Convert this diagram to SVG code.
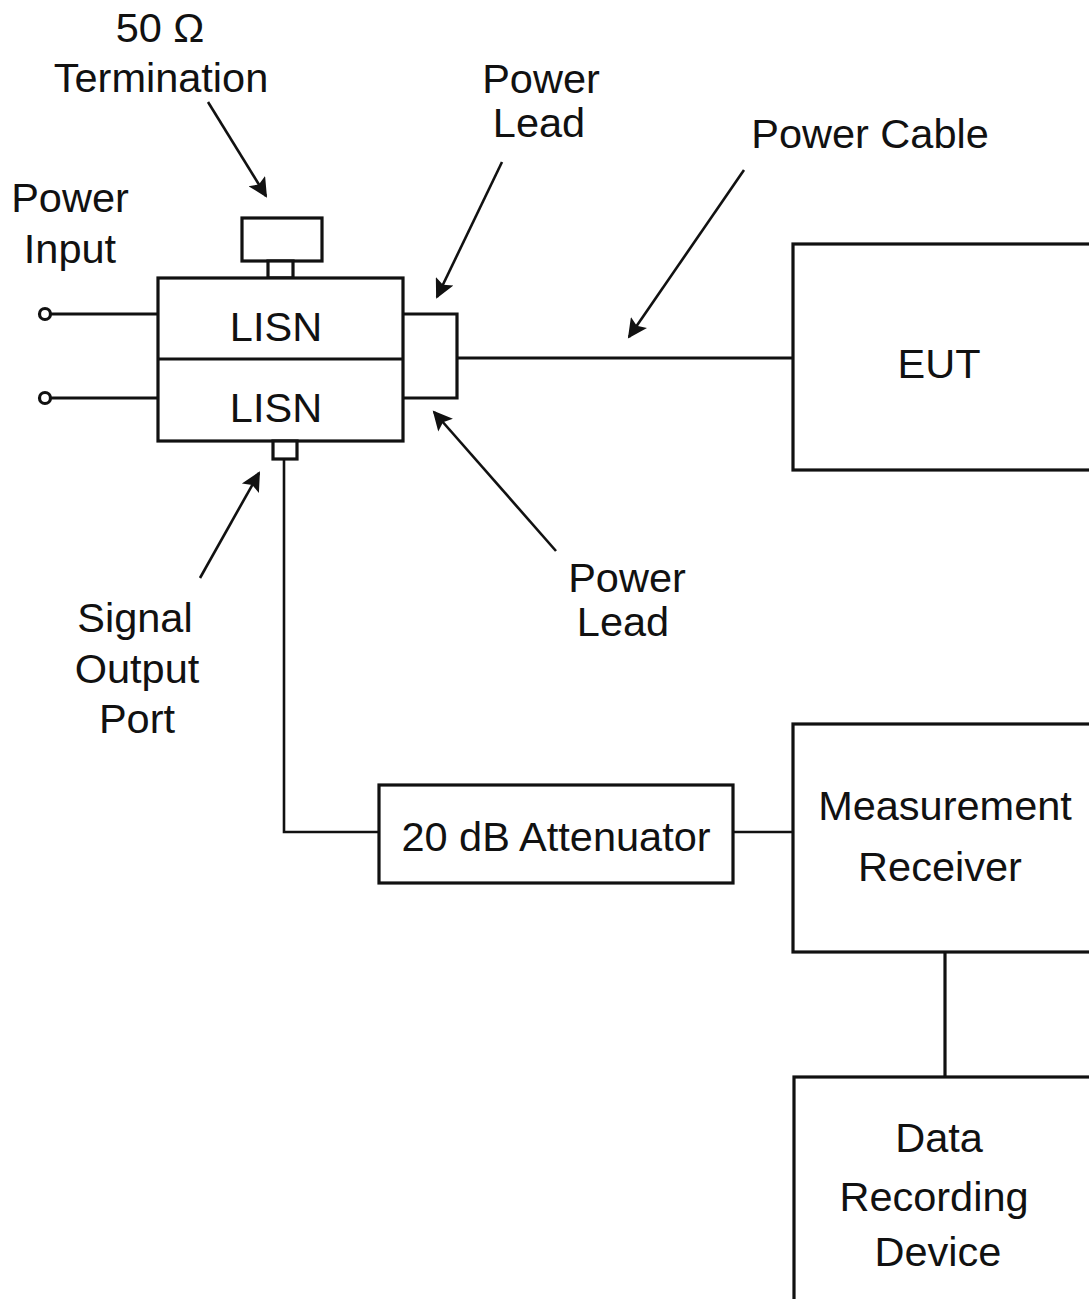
<svg xmlns="http://www.w3.org/2000/svg" width="1089" height="1299" viewBox="0 0 1089 1299">
<defs>
<style>
.box{fill:#fff;stroke:#111;stroke-width:3.2}
.ln{fill:none;stroke:#111;stroke-width:3.2}
.thin{fill:none;stroke:#111;stroke-width:2.6}
.arr{fill:none;stroke:#111;stroke-width:2.6;marker-end:url(#ah)}
text{font-family:"Liberation Sans",Arial,sans-serif;font-size:41.5px;fill:#111;text-anchor:middle}
</style>
<marker id="ah" viewBox="0 0 10 10" refX="9" refY="5" markerWidth="9" markerHeight="7.5" markerUnits="strokeWidth" orient="auto">
<path d="M0,0 L10,5 L0,10 L2,5 Z" fill="#111"/>
</marker>
</defs>
<rect width="1089" height="1299" fill="#fff"/>

<g id="connectors">
<line class="ln" x1="51" y1="314" x2="158" y2="314"/>
<line class="ln" x1="51" y1="398" x2="158" y2="398"/>
<circle cx="45" cy="314" r="5.5" fill="#fff" stroke="#111" stroke-width="3.2"/>
<circle cx="45" cy="398" r="5.5" fill="#fff" stroke="#111" stroke-width="3.2"/>
<polyline class="ln" points="403,314 457,314 457,398 403,398"/>
<line class="ln" x1="457" y1="358" x2="793" y2="358"/>
<polyline class="thin" points="284,459 284,832 379,832"/>
<line class="thin" x1="733" y1="832" x2="793" y2="832"/>
<line class="ln" x1="945" y1="952" x2="945" y2="1077"/>
</g>

<g id="lisn">
<rect class="box" x="242" y="218" width="80" height="43"/>
<rect class="box" x="268" y="261" width="25" height="17"/>
<rect class="box" x="158" y="278" width="245" height="163"/>
<line class="ln" x1="158" y1="359" x2="403" y2="359"/>
<rect class="box" x="273" y="441" width="24" height="18"/>
<text x="276" y="341">LISN</text>
<text x="276" y="422">LISN</text>
</g>

<g id="eut">
<rect class="box" x="793" y="244" width="310" height="226"/>
<text x="939" y="378">EUT</text>
</g>

<g id="attenuator">
<rect class="box" x="379" y="785" width="354" height="98"/>
<text x="556" y="851">20 dB Attenuator</text>
</g>

<g id="receiver">
<rect class="box" x="793" y="724" width="310" height="228"/>
<text x="945" y="820">Measurement</text>
<text x="940" y="881">Receiver</text>
</g>

<g id="recorder">
<rect class="box" x="794" y="1077" width="310" height="240"/>
<text x="939" y="1152">Data</text>
<text x="934" y="1211">Recording</text>
<text x="938" y="1266">Device</text>
</g>

<g id="labels">
<text x="160" y="42">50 Ω</text>
<text x="161" y="92">Termination</text>
<text x="70" y="212">Power</text>
<text x="70" y="263">Input</text>
<text x="541" y="93">Power</text>
<text x="539" y="137">Lead</text>
<text x="870" y="148">Power Cable</text>
<text x="135" y="632">Signal</text>
<text x="137" y="683">Output</text>
<text x="137" y="733">Port</text>
<text x="627" y="592">Power</text>
<text x="623" y="636">Lead</text>
</g>

<g id="arrows">
<line class="arr" x1="208" y1="102" x2="266" y2="196"/>
<line class="arr" x1="502" y1="162" x2="437" y2="297"/>
<line class="arr" x1="744" y1="170" x2="629" y2="337"/>
<line class="arr" x1="200" y1="578" x2="259" y2="473"/>
<line class="arr" x1="556" y1="551" x2="434" y2="412"/>
</g>
</svg>
